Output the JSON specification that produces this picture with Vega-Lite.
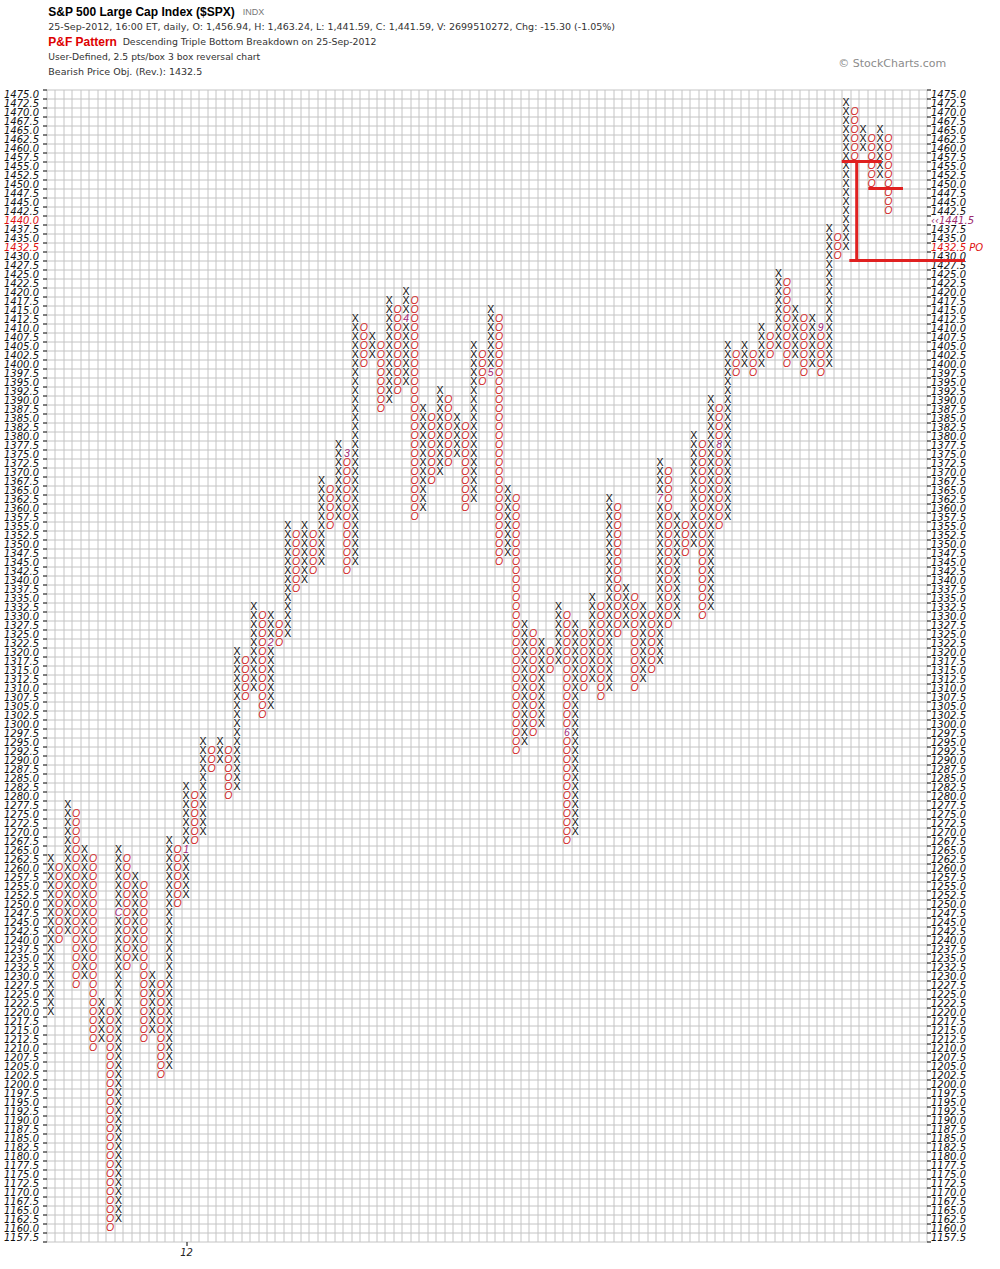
{
"$schema":"https://vega.github.io/schema/vega-lite/v6.json",
"width":880,"height":1152,
"autosize":{"type":"none"},
"padding":{"left":46.5,"top":89.5,"right":73.5,"bottom":27.5},
"background":"white",
"config":{"view":{"stroke":null}},
"datasets":{
"xs":[
{"c":0,"p":1220},{"c":0,"p":1222.5},{"c":0,"p":1225},{"c":0,"p":1227.5},{"c":0,"p":1230},{"c":0,"p":1232.5},{"c":0,"p":1235},{"c":0,"p":1237.5},{"c":0,"p":1240},{"c":0,"p":1242.5},{"c":0,"p":1245},{"c":0,"p":1247.5},{"c":0,"p":1250},{"c":0,"p":1252.5},{"c":0,"p":1255},{"c":0,"p":1257.5},{"c":0,"p":1260},{"c":0,"p":1262.5},
{"c":2,"p":1242.5},{"c":2,"p":1245},{"c":2,"p":1247.5},{"c":2,"p":1250},{"c":2,"p":1252.5},{"c":2,"p":1255},{"c":2,"p":1257.5},{"c":2,"p":1260},{"c":2,"p":1262.5},{"c":2,"p":1265},{"c":2,"p":1267.5},{"c":2,"p":1270},{"c":2,"p":1272.5},{"c":2,"p":1275},{"c":2,"p":1277.5},
{"c":4,"p":1230},{"c":4,"p":1232.5},{"c":4,"p":1235},{"c":4,"p":1237.5},{"c":4,"p":1240},{"c":4,"p":1242.5},{"c":4,"p":1245},{"c":4,"p":1247.5},{"c":4,"p":1250},{"c":4,"p":1252.5},{"c":4,"p":1255},{"c":4,"p":1257.5},{"c":4,"p":1260},{"c":4,"p":1262.5},{"c":4,"p":1265},
{"c":6,"p":1212.5},{"c":6,"p":1215},{"c":6,"p":1217.5},{"c":6,"p":1220},{"c":6,"p":1222.5},
{"c":8,"p":1162.5},{"c":8,"p":1165},{"c":8,"p":1167.5},{"c":8,"p":1170},{"c":8,"p":1172.5},{"c":8,"p":1175},{"c":8,"p":1177.5},{"c":8,"p":1180},{"c":8,"p":1182.5},{"c":8,"p":1185},{"c":8,"p":1187.5},{"c":8,"p":1190},{"c":8,"p":1192.5},{"c":8,"p":1195},{"c":8,"p":1197.5},{"c":8,"p":1200},{"c":8,"p":1202.5},{"c":8,"p":1205},{"c":8,"p":1207.5},{"c":8,"p":1210},{"c":8,"p":1212.5},{"c":8,"p":1215},{"c":8,"p":1217.5},{"c":8,"p":1220},{"c":8,"p":1222.5},{"c":8,"p":1225},{"c":8,"p":1227.5},{"c":8,"p":1230},{"c":8,"p":1232.5},{"c":8,"p":1235},{"c":8,"p":1237.5},{"c":8,"p":1240},{"c":8,"p":1242.5},{"c":8,"p":1245},{"c":8,"p":1250},{"c":8,"p":1252.5},{"c":8,"p":1255},{"c":8,"p":1257.5},{"c":8,"p":1260},{"c":8,"p":1262.5},{"c":8,"p":1265},
{"c":10,"p":1235},{"c":10,"p":1237.5},{"c":10,"p":1240},{"c":10,"p":1242.5},{"c":10,"p":1245},{"c":10,"p":1247.5},{"c":10,"p":1250},{"c":10,"p":1252.5},{"c":10,"p":1255},{"c":10,"p":1257.5},
{"c":12,"p":1215},{"c":12,"p":1217.5},{"c":12,"p":1220},{"c":12,"p":1222.5},{"c":12,"p":1225},{"c":12,"p":1227.5},{"c":12,"p":1230},
{"c":14,"p":1205},{"c":14,"p":1207.5},{"c":14,"p":1210},{"c":14,"p":1212.5},{"c":14,"p":1215},{"c":14,"p":1217.5},{"c":14,"p":1220},{"c":14,"p":1222.5},{"c":14,"p":1225},{"c":14,"p":1227.5},{"c":14,"p":1230},{"c":14,"p":1232.5},{"c":14,"p":1235},{"c":14,"p":1237.5},{"c":14,"p":1240},{"c":14,"p":1242.5},{"c":14,"p":1245},{"c":14,"p":1247.5},{"c":14,"p":1250},{"c":14,"p":1252.5},{"c":14,"p":1255},{"c":14,"p":1257.5},{"c":14,"p":1260},{"c":14,"p":1262.5},{"c":14,"p":1265},{"c":14,"p":1267.5},
{"c":16,"p":1252.5},{"c":16,"p":1255},{"c":16,"p":1257.5},{"c":16,"p":1260},{"c":16,"p":1262.5},{"c":16,"p":1267.5},{"c":16,"p":1270},{"c":16,"p":1272.5},{"c":16,"p":1275},{"c":16,"p":1277.5},{"c":16,"p":1280},{"c":16,"p":1282.5},
{"c":18,"p":1270},{"c":18,"p":1272.5},{"c":18,"p":1275},{"c":18,"p":1277.5},{"c":18,"p":1280},{"c":18,"p":1282.5},{"c":18,"p":1285},{"c":18,"p":1287.5},{"c":18,"p":1290},{"c":18,"p":1292.5},{"c":18,"p":1295},
{"c":20,"p":1290},{"c":20,"p":1292.5},{"c":20,"p":1295},
{"c":22,"p":1282.5},{"c":22,"p":1285},{"c":22,"p":1287.5},{"c":22,"p":1290},{"c":22,"p":1292.5},{"c":22,"p":1295},{"c":22,"p":1297.5},{"c":22,"p":1300},{"c":22,"p":1302.5},{"c":22,"p":1305},{"c":22,"p":1307.5},{"c":22,"p":1310},{"c":22,"p":1312.5},{"c":22,"p":1315},{"c":22,"p":1317.5},{"c":22,"p":1320},
{"c":24,"p":1310},{"c":24,"p":1312.5},{"c":24,"p":1315},{"c":24,"p":1317.5},{"c":24,"p":1320},{"c":24,"p":1322.5},{"c":24,"p":1325},{"c":24,"p":1327.5},{"c":24,"p":1330},{"c":24,"p":1332.5},
{"c":26,"p":1305},{"c":26,"p":1307.5},{"c":26,"p":1310},{"c":26,"p":1312.5},{"c":26,"p":1315},{"c":26,"p":1317.5},{"c":26,"p":1320},{"c":26,"p":1325},{"c":26,"p":1327.5},{"c":26,"p":1330},
{"c":28,"p":1325},{"c":28,"p":1327.5},{"c":28,"p":1330},{"c":28,"p":1332.5},{"c":28,"p":1335},{"c":28,"p":1337.5},{"c":28,"p":1340},{"c":28,"p":1342.5},{"c":28,"p":1345},{"c":28,"p":1347.5},{"c":28,"p":1350},{"c":28,"p":1352.5},{"c":28,"p":1355},
{"c":30,"p":1340},{"c":30,"p":1342.5},{"c":30,"p":1345},{"c":30,"p":1347.5},{"c":30,"p":1350},{"c":30,"p":1352.5},{"c":30,"p":1355},
{"c":32,"p":1345},{"c":32,"p":1347.5},{"c":32,"p":1350},{"c":32,"p":1352.5},{"c":32,"p":1355},{"c":32,"p":1357.5},{"c":32,"p":1360},{"c":32,"p":1362.5},{"c":32,"p":1365},{"c":32,"p":1367.5},
{"c":34,"p":1357.5},{"c":34,"p":1360},{"c":34,"p":1362.5},{"c":34,"p":1365},{"c":34,"p":1367.5},{"c":34,"p":1370},{"c":34,"p":1372.5},{"c":34,"p":1375},{"c":34,"p":1377.5},
{"c":36,"p":1345},{"c":36,"p":1347.5},{"c":36,"p":1350},{"c":36,"p":1352.5},{"c":36,"p":1355},{"c":36,"p":1357.5},{"c":36,"p":1360},{"c":36,"p":1362.5},{"c":36,"p":1365},{"c":36,"p":1367.5},{"c":36,"p":1370},{"c":36,"p":1372.5},{"c":36,"p":1375},{"c":36,"p":1377.5},{"c":36,"p":1380},{"c":36,"p":1382.5},{"c":36,"p":1385},{"c":36,"p":1387.5},{"c":36,"p":1390},{"c":36,"p":1392.5},{"c":36,"p":1395},{"c":36,"p":1397.5},{"c":36,"p":1400},{"c":36,"p":1402.5},{"c":36,"p":1405},{"c":36,"p":1407.5},{"c":36,"p":1410},{"c":36,"p":1412.5},
{"c":38,"p":1402.5},{"c":38,"p":1405},{"c":38,"p":1407.5},
{"c":40,"p":1390},{"c":40,"p":1392.5},{"c":40,"p":1395},{"c":40,"p":1397.5},{"c":40,"p":1400},{"c":40,"p":1402.5},{"c":40,"p":1405},{"c":40,"p":1407.5},{"c":40,"p":1410},{"c":40,"p":1412.5},{"c":40,"p":1415},{"c":40,"p":1417.5},
{"c":42,"p":1395},{"c":42,"p":1397.5},{"c":42,"p":1400},{"c":42,"p":1402.5},{"c":42,"p":1405},{"c":42,"p":1407.5},{"c":42,"p":1410},{"c":42,"p":1415},{"c":42,"p":1417.5},{"c":42,"p":1420},
{"c":44,"p":1360},{"c":44,"p":1362.5},{"c":44,"p":1365},{"c":44,"p":1367.5},{"c":44,"p":1370},{"c":44,"p":1372.5},{"c":44,"p":1375},{"c":44,"p":1377.5},{"c":44,"p":1380},{"c":44,"p":1382.5},{"c":44,"p":1385},{"c":44,"p":1387.5},
{"c":46,"p":1370},{"c":46,"p":1372.5},{"c":46,"p":1375},{"c":46,"p":1377.5},{"c":46,"p":1380},{"c":46,"p":1382.5},{"c":46,"p":1385},{"c":46,"p":1387.5},{"c":46,"p":1390},{"c":46,"p":1392.5},
{"c":48,"p":1375},{"c":48,"p":1377.5},{"c":48,"p":1380},{"c":48,"p":1382.5},{"c":48,"p":1385},
{"c":50,"p":1362.5},{"c":50,"p":1365},{"c":50,"p":1367.5},{"c":50,"p":1370},{"c":50,"p":1372.5},{"c":50,"p":1375},{"c":50,"p":1377.5},{"c":50,"p":1380},{"c":50,"p":1382.5},{"c":50,"p":1385},{"c":50,"p":1387.5},{"c":50,"p":1390},{"c":50,"p":1392.5},{"c":50,"p":1395},{"c":50,"p":1397.5},{"c":50,"p":1400},{"c":50,"p":1402.5},{"c":50,"p":1405},
{"c":52,"p":1400},{"c":52,"p":1402.5},{"c":52,"p":1405},{"c":52,"p":1407.5},{"c":52,"p":1410},{"c":52,"p":1412.5},{"c":52,"p":1415},
{"c":54,"p":1347.5},{"c":54,"p":1350},{"c":54,"p":1352.5},{"c":54,"p":1355},{"c":54,"p":1357.5},{"c":54,"p":1360},{"c":54,"p":1362.5},{"c":54,"p":1365},
{"c":56,"p":1295},{"c":56,"p":1297.5},{"c":56,"p":1300},{"c":56,"p":1302.5},{"c":56,"p":1305},{"c":56,"p":1307.5},{"c":56,"p":1310},{"c":56,"p":1312.5},{"c":56,"p":1315},{"c":56,"p":1317.5},{"c":56,"p":1320},{"c":56,"p":1322.5},{"c":56,"p":1325},{"c":56,"p":1327.5},
{"c":58,"p":1300},{"c":58,"p":1302.5},{"c":58,"p":1305},{"c":58,"p":1307.5},{"c":58,"p":1310},{"c":58,"p":1312.5},{"c":58,"p":1315},{"c":58,"p":1317.5},{"c":58,"p":1320},{"c":58,"p":1322.5},
{"c":60,"p":1317.5},{"c":60,"p":1320},{"c":60,"p":1322.5},{"c":60,"p":1325},{"c":60,"p":1327.5},{"c":60,"p":1330},{"c":60,"p":1332.5},
{"c":62,"p":1270},{"c":62,"p":1272.5},{"c":62,"p":1275},{"c":62,"p":1277.5},{"c":62,"p":1280},{"c":62,"p":1282.5},{"c":62,"p":1285},{"c":62,"p":1287.5},{"c":62,"p":1290},{"c":62,"p":1292.5},{"c":62,"p":1295},{"c":62,"p":1297.5},{"c":62,"p":1300},{"c":62,"p":1302.5},{"c":62,"p":1305},{"c":62,"p":1307.5},{"c":62,"p":1310},{"c":62,"p":1312.5},{"c":62,"p":1315},{"c":62,"p":1317.5},{"c":62,"p":1320},{"c":62,"p":1322.5},{"c":62,"p":1325},{"c":62,"p":1327.5},
{"c":64,"p":1312.5},{"c":64,"p":1315},{"c":64,"p":1317.5},{"c":64,"p":1320},{"c":64,"p":1322.5},{"c":64,"p":1325},{"c":64,"p":1327.5},{"c":64,"p":1330},{"c":64,"p":1332.5},{"c":64,"p":1335},
{"c":66,"p":1310},{"c":66,"p":1312.5},{"c":66,"p":1315},{"c":66,"p":1317.5},{"c":66,"p":1320},{"c":66,"p":1322.5},{"c":66,"p":1325},{"c":66,"p":1327.5},{"c":66,"p":1330},{"c":66,"p":1332.5},{"c":66,"p":1335},{"c":66,"p":1337.5},{"c":66,"p":1340},{"c":66,"p":1342.5},{"c":66,"p":1345},{"c":66,"p":1347.5},{"c":66,"p":1350},{"c":66,"p":1352.5},{"c":66,"p":1355},{"c":66,"p":1357.5},{"c":66,"p":1360},{"c":66,"p":1362.5},
{"c":68,"p":1327.5},{"c":68,"p":1330},{"c":68,"p":1332.5},{"c":68,"p":1335},{"c":68,"p":1337.5},
{"c":70,"p":1312.5},{"c":70,"p":1315},{"c":70,"p":1317.5},{"c":70,"p":1320},{"c":70,"p":1322.5},{"c":70,"p":1325},{"c":70,"p":1327.5},{"c":70,"p":1330},{"c":70,"p":1332.5},
{"c":72,"p":1317.5},{"c":72,"p":1320},{"c":72,"p":1322.5},{"c":72,"p":1325},{"c":72,"p":1327.5},{"c":72,"p":1330},{"c":72,"p":1332.5},{"c":72,"p":1335},{"c":72,"p":1337.5},{"c":72,"p":1340},{"c":72,"p":1342.5},{"c":72,"p":1345},{"c":72,"p":1347.5},{"c":72,"p":1350},{"c":72,"p":1352.5},{"c":72,"p":1355},{"c":72,"p":1357.5},{"c":72,"p":1360},{"c":72,"p":1365},{"c":72,"p":1367.5},{"c":72,"p":1370},{"c":72,"p":1372.5},
{"c":74,"p":1330},{"c":74,"p":1332.5},{"c":74,"p":1335},{"c":74,"p":1337.5},{"c":74,"p":1340},{"c":74,"p":1342.5},{"c":74,"p":1345},{"c":74,"p":1347.5},{"c":74,"p":1350},{"c":74,"p":1352.5},{"c":74,"p":1355},{"c":74,"p":1357.5},
{"c":76,"p":1350},{"c":76,"p":1352.5},{"c":76,"p":1355},{"c":76,"p":1357.5},{"c":76,"p":1360},{"c":76,"p":1362.5},{"c":76,"p":1365},{"c":76,"p":1367.5},{"c":76,"p":1370},{"c":76,"p":1372.5},{"c":76,"p":1375},{"c":76,"p":1377.5},{"c":76,"p":1380},
{"c":78,"p":1332.5},{"c":78,"p":1335},{"c":78,"p":1337.5},{"c":78,"p":1340},{"c":78,"p":1342.5},{"c":78,"p":1345},{"c":78,"p":1347.5},{"c":78,"p":1350},{"c":78,"p":1352.5},{"c":78,"p":1355},{"c":78,"p":1357.5},{"c":78,"p":1360},{"c":78,"p":1362.5},{"c":78,"p":1365},{"c":78,"p":1367.5},{"c":78,"p":1370},{"c":78,"p":1372.5},{"c":78,"p":1375},{"c":78,"p":1377.5},{"c":78,"p":1380},{"c":78,"p":1382.5},{"c":78,"p":1385},{"c":78,"p":1387.5},{"c":78,"p":1390},
{"c":80,"p":1357.5},{"c":80,"p":1360},{"c":80,"p":1362.5},{"c":80,"p":1365},{"c":80,"p":1367.5},{"c":80,"p":1370},{"c":80,"p":1372.5},{"c":80,"p":1375},{"c":80,"p":1377.5},{"c":80,"p":1380},{"c":80,"p":1382.5},{"c":80,"p":1385},{"c":80,"p":1387.5},{"c":80,"p":1390},{"c":80,"p":1392.5},{"c":80,"p":1395},{"c":80,"p":1397.5},{"c":80,"p":1400},{"c":80,"p":1402.5},{"c":80,"p":1405},
{"c":82,"p":1400},{"c":82,"p":1402.5},{"c":82,"p":1405},
{"c":84,"p":1400},{"c":84,"p":1402.5},{"c":84,"p":1405},{"c":84,"p":1407.5},{"c":84,"p":1410},
{"c":86,"p":1405},{"c":86,"p":1407.5},{"c":86,"p":1410},{"c":86,"p":1412.5},{"c":86,"p":1415},{"c":86,"p":1417.5},{"c":86,"p":1420},{"c":86,"p":1422.5},{"c":86,"p":1425},
{"c":88,"p":1402.5},{"c":88,"p":1405},{"c":88,"p":1407.5},{"c":88,"p":1410},{"c":88,"p":1412.5},{"c":88,"p":1415},
{"c":90,"p":1400},{"c":90,"p":1402.5},{"c":90,"p":1405},{"c":90,"p":1407.5},{"c":90,"p":1410},{"c":90,"p":1412.5},
{"c":92,"p":1400},{"c":92,"p":1402.5},{"c":92,"p":1405},{"c":92,"p":1407.5},{"c":92,"p":1410},{"c":92,"p":1412.5},{"c":92,"p":1415},{"c":92,"p":1417.5},{"c":92,"p":1420},{"c":92,"p":1422.5},{"c":92,"p":1425},{"c":92,"p":1427.5},{"c":92,"p":1430},{"c":92,"p":1432.5},{"c":92,"p":1435},{"c":92,"p":1437.5},
{"c":94,"p":1432.5},{"c":94,"p":1435},{"c":94,"p":1437.5},{"c":94,"p":1440},{"c":94,"p":1442.5},{"c":94,"p":1445},{"c":94,"p":1447.5},{"c":94,"p":1450},{"c":94,"p":1452.5},{"c":94,"p":1455},{"c":94,"p":1457.5},{"c":94,"p":1460},{"c":94,"p":1462.5},{"c":94,"p":1465},{"c":94,"p":1467.5},{"c":94,"p":1470},{"c":94,"p":1472.5},
{"c":96,"p":1460},{"c":96,"p":1462.5},{"c":96,"p":1465},
{"c":98,"p":1452.5},{"c":98,"p":1455},{"c":98,"p":1457.5},{"c":98,"p":1460},{"c":98,"p":1462.5},{"c":98,"p":1465}
],
"os":[
{"c":1,"p":1240},{"c":1,"p":1242.5},{"c":1,"p":1245},{"c":1,"p":1247.5},{"c":1,"p":1250},{"c":1,"p":1252.5},{"c":1,"p":1255},{"c":1,"p":1257.5},{"c":1,"p":1260},
{"c":3,"p":1227.5},{"c":3,"p":1230},{"c":3,"p":1232.5},{"c":3,"p":1235},{"c":3,"p":1237.5},{"c":3,"p":1240},{"c":3,"p":1242.5},{"c":3,"p":1245},{"c":3,"p":1247.5},{"c":3,"p":1250},{"c":3,"p":1252.5},{"c":3,"p":1255},{"c":3,"p":1257.5},{"c":3,"p":1260},{"c":3,"p":1262.5},{"c":3,"p":1265},{"c":3,"p":1267.5},{"c":3,"p":1270},{"c":3,"p":1272.5},{"c":3,"p":1275},
{"c":5,"p":1210},{"c":5,"p":1212.5},{"c":5,"p":1215},{"c":5,"p":1217.5},{"c":5,"p":1220},{"c":5,"p":1222.5},{"c":5,"p":1225},{"c":5,"p":1227.5},{"c":5,"p":1230},{"c":5,"p":1232.5},{"c":5,"p":1235},{"c":5,"p":1237.5},{"c":5,"p":1240},{"c":5,"p":1242.5},{"c":5,"p":1245},{"c":5,"p":1247.5},{"c":5,"p":1250},{"c":5,"p":1252.5},{"c":5,"p":1255},{"c":5,"p":1257.5},{"c":5,"p":1260},{"c":5,"p":1262.5},
{"c":7,"p":1160},{"c":7,"p":1162.5},{"c":7,"p":1165},{"c":7,"p":1167.5},{"c":7,"p":1170},{"c":7,"p":1172.5},{"c":7,"p":1175},{"c":7,"p":1177.5},{"c":7,"p":1180},{"c":7,"p":1182.5},{"c":7,"p":1185},{"c":7,"p":1187.5},{"c":7,"p":1190},{"c":7,"p":1192.5},{"c":7,"p":1195},{"c":7,"p":1197.5},{"c":7,"p":1200},{"c":7,"p":1202.5},{"c":7,"p":1205},{"c":7,"p":1207.5},{"c":7,"p":1210},{"c":7,"p":1212.5},{"c":7,"p":1215},{"c":7,"p":1217.5},{"c":7,"p":1220},
{"c":9,"p":1232.5},{"c":9,"p":1235},{"c":9,"p":1237.5},{"c":9,"p":1240},{"c":9,"p":1242.5},{"c":9,"p":1245},{"c":9,"p":1247.5},{"c":9,"p":1250},{"c":9,"p":1252.5},{"c":9,"p":1255},{"c":9,"p":1257.5},{"c":9,"p":1260},{"c":9,"p":1262.5},
{"c":11,"p":1212.5},{"c":11,"p":1215},{"c":11,"p":1217.5},{"c":11,"p":1220},{"c":11,"p":1222.5},{"c":11,"p":1225},{"c":11,"p":1227.5},{"c":11,"p":1230},{"c":11,"p":1232.5},{"c":11,"p":1235},{"c":11,"p":1237.5},{"c":11,"p":1240},{"c":11,"p":1242.5},{"c":11,"p":1245},{"c":11,"p":1247.5},{"c":11,"p":1250},{"c":11,"p":1252.5},{"c":11,"p":1255},
{"c":13,"p":1202.5},{"c":13,"p":1205},{"c":13,"p":1207.5},{"c":13,"p":1210},{"c":13,"p":1212.5},{"c":13,"p":1215},{"c":13,"p":1217.5},{"c":13,"p":1220},{"c":13,"p":1222.5},{"c":13,"p":1225},{"c":13,"p":1227.5},
{"c":15,"p":1250},{"c":15,"p":1252.5},{"c":15,"p":1255},{"c":15,"p":1257.5},{"c":15,"p":1260},{"c":15,"p":1262.5},{"c":15,"p":1265},
{"c":17,"p":1267.5},{"c":17,"p":1270},{"c":17,"p":1272.5},{"c":17,"p":1275},{"c":17,"p":1277.5},{"c":17,"p":1280},
{"c":19,"p":1287.5},{"c":19,"p":1290},{"c":19,"p":1292.5},
{"c":21,"p":1280},{"c":21,"p":1282.5},{"c":21,"p":1285},{"c":21,"p":1287.5},{"c":21,"p":1290},{"c":21,"p":1292.5},
{"c":23,"p":1307.5},{"c":23,"p":1310},{"c":23,"p":1312.5},{"c":23,"p":1315},{"c":23,"p":1317.5},
{"c":25,"p":1302.5},{"c":25,"p":1305},{"c":25,"p":1307.5},{"c":25,"p":1310},{"c":25,"p":1312.5},{"c":25,"p":1315},{"c":25,"p":1317.5},{"c":25,"p":1320},{"c":25,"p":1322.5},{"c":25,"p":1325},{"c":25,"p":1327.5},{"c":25,"p":1330},
{"c":27,"p":1322.5},{"c":27,"p":1325},{"c":27,"p":1327.5},
{"c":29,"p":1337.5},{"c":29,"p":1340},{"c":29,"p":1342.5},{"c":29,"p":1345},{"c":29,"p":1347.5},{"c":29,"p":1350},{"c":29,"p":1352.5},
{"c":31,"p":1342.5},{"c":31,"p":1345},{"c":31,"p":1347.5},{"c":31,"p":1350},{"c":31,"p":1352.5},
{"c":33,"p":1355},{"c":33,"p":1357.5},{"c":33,"p":1360},{"c":33,"p":1362.5},{"c":33,"p":1365},
{"c":35,"p":1342.5},{"c":35,"p":1345},{"c":35,"p":1347.5},{"c":35,"p":1350},{"c":35,"p":1352.5},{"c":35,"p":1355},{"c":35,"p":1357.5},{"c":35,"p":1360},{"c":35,"p":1362.5},{"c":35,"p":1365},{"c":35,"p":1367.5},{"c":35,"p":1370},{"c":35,"p":1372.5},
{"c":37,"p":1400},{"c":37,"p":1402.5},{"c":37,"p":1405},{"c":37,"p":1407.5},{"c":37,"p":1410},
{"c":39,"p":1387.5},{"c":39,"p":1390},{"c":39,"p":1392.5},{"c":39,"p":1395},{"c":39,"p":1397.5},{"c":39,"p":1400},{"c":39,"p":1402.5},{"c":39,"p":1405},
{"c":41,"p":1392.5},{"c":41,"p":1395},{"c":41,"p":1397.5},{"c":41,"p":1400},{"c":41,"p":1402.5},{"c":41,"p":1405},{"c":41,"p":1407.5},{"c":41,"p":1410},{"c":41,"p":1412.5},{"c":41,"p":1415},
{"c":43,"p":1357.5},{"c":43,"p":1360},{"c":43,"p":1362.5},{"c":43,"p":1365},{"c":43,"p":1367.5},{"c":43,"p":1370},{"c":43,"p":1372.5},{"c":43,"p":1375},{"c":43,"p":1377.5},{"c":43,"p":1380},{"c":43,"p":1382.5},{"c":43,"p":1385},{"c":43,"p":1387.5},{"c":43,"p":1390},{"c":43,"p":1392.5},{"c":43,"p":1395},{"c":43,"p":1397.5},{"c":43,"p":1400},{"c":43,"p":1402.5},{"c":43,"p":1405},{"c":43,"p":1407.5},{"c":43,"p":1410},{"c":43,"p":1412.5},{"c":43,"p":1415},{"c":43,"p":1417.5},
{"c":45,"p":1367.5},{"c":45,"p":1370},{"c":45,"p":1372.5},{"c":45,"p":1375},{"c":45,"p":1377.5},{"c":45,"p":1380},{"c":45,"p":1382.5},{"c":45,"p":1385},
{"c":47,"p":1372.5},{"c":47,"p":1375},{"c":47,"p":1377.5},{"c":47,"p":1380},{"c":47,"p":1382.5},{"c":47,"p":1385},{"c":47,"p":1387.5},{"c":47,"p":1390},
{"c":49,"p":1360},{"c":49,"p":1362.5},{"c":49,"p":1365},{"c":49,"p":1367.5},{"c":49,"p":1370},{"c":49,"p":1372.5},{"c":49,"p":1375},{"c":49,"p":1377.5},{"c":49,"p":1380},{"c":49,"p":1382.5},
{"c":51,"p":1395},{"c":51,"p":1397.5},{"c":51,"p":1400},{"c":51,"p":1402.5},
{"c":53,"p":1345},{"c":53,"p":1347.5},{"c":53,"p":1350},{"c":53,"p":1352.5},{"c":53,"p":1355},{"c":53,"p":1357.5},{"c":53,"p":1360},{"c":53,"p":1362.5},{"c":53,"p":1365},{"c":53,"p":1367.5},{"c":53,"p":1370},{"c":53,"p":1372.5},{"c":53,"p":1375},{"c":53,"p":1377.5},{"c":53,"p":1380},{"c":53,"p":1382.5},{"c":53,"p":1385},{"c":53,"p":1387.5},{"c":53,"p":1390},{"c":53,"p":1392.5},{"c":53,"p":1395},{"c":53,"p":1397.5},{"c":53,"p":1400},{"c":53,"p":1402.5},{"c":53,"p":1405},{"c":53,"p":1407.5},{"c":53,"p":1410},{"c":53,"p":1412.5},
{"c":55,"p":1292.5},{"c":55,"p":1295},{"c":55,"p":1297.5},{"c":55,"p":1300},{"c":55,"p":1302.5},{"c":55,"p":1305},{"c":55,"p":1307.5},{"c":55,"p":1310},{"c":55,"p":1312.5},{"c":55,"p":1315},{"c":55,"p":1317.5},{"c":55,"p":1320},{"c":55,"p":1322.5},{"c":55,"p":1325},{"c":55,"p":1327.5},{"c":55,"p":1330},{"c":55,"p":1332.5},{"c":55,"p":1335},{"c":55,"p":1337.5},{"c":55,"p":1340},{"c":55,"p":1342.5},{"c":55,"p":1345},{"c":55,"p":1347.5},{"c":55,"p":1350},{"c":55,"p":1352.5},{"c":55,"p":1355},{"c":55,"p":1357.5},{"c":55,"p":1360},{"c":55,"p":1362.5},
{"c":57,"p":1297.5},{"c":57,"p":1300},{"c":57,"p":1302.5},{"c":57,"p":1305},{"c":57,"p":1307.5},{"c":57,"p":1310},{"c":57,"p":1312.5},{"c":57,"p":1315},{"c":57,"p":1317.5},{"c":57,"p":1320},{"c":57,"p":1322.5},{"c":57,"p":1325},
{"c":59,"p":1315},{"c":59,"p":1317.5},{"c":59,"p":1320},
{"c":61,"p":1267.5},{"c":61,"p":1270},{"c":61,"p":1272.5},{"c":61,"p":1275},{"c":61,"p":1277.5},{"c":61,"p":1280},{"c":61,"p":1282.5},{"c":61,"p":1285},{"c":61,"p":1287.5},{"c":61,"p":1290},{"c":61,"p":1292.5},{"c":61,"p":1295},{"c":61,"p":1300},{"c":61,"p":1302.5},{"c":61,"p":1305},{"c":61,"p":1307.5},{"c":61,"p":1310},{"c":61,"p":1312.5},{"c":61,"p":1315},{"c":61,"p":1317.5},{"c":61,"p":1320},{"c":61,"p":1322.5},{"c":61,"p":1325},{"c":61,"p":1327.5},{"c":61,"p":1330},
{"c":63,"p":1310},{"c":63,"p":1312.5},{"c":63,"p":1315},{"c":63,"p":1317.5},{"c":63,"p":1320},{"c":63,"p":1322.5},{"c":63,"p":1325},
{"c":65,"p":1307.5},{"c":65,"p":1310},{"c":65,"p":1312.5},{"c":65,"p":1315},{"c":65,"p":1317.5},{"c":65,"p":1320},{"c":65,"p":1322.5},{"c":65,"p":1325},{"c":65,"p":1327.5},{"c":65,"p":1330},{"c":65,"p":1332.5},
{"c":67,"p":1325},{"c":67,"p":1327.5},{"c":67,"p":1330},{"c":67,"p":1332.5},{"c":67,"p":1335},{"c":67,"p":1337.5},{"c":67,"p":1340},{"c":67,"p":1342.5},{"c":67,"p":1345},{"c":67,"p":1347.5},{"c":67,"p":1350},{"c":67,"p":1352.5},{"c":67,"p":1355},{"c":67,"p":1357.5},{"c":67,"p":1360},
{"c":69,"p":1310},{"c":69,"p":1312.5},{"c":69,"p":1315},{"c":69,"p":1317.5},{"c":69,"p":1320},{"c":69,"p":1322.5},{"c":69,"p":1325},{"c":69,"p":1327.5},{"c":69,"p":1330},{"c":69,"p":1332.5},{"c":69,"p":1335},
{"c":71,"p":1315},{"c":71,"p":1317.5},{"c":71,"p":1320},{"c":71,"p":1322.5},{"c":71,"p":1325},{"c":71,"p":1327.5},{"c":71,"p":1330},
{"c":73,"p":1327.5},{"c":73,"p":1330},{"c":73,"p":1332.5},{"c":73,"p":1335},{"c":73,"p":1337.5},{"c":73,"p":1340},{"c":73,"p":1342.5},{"c":73,"p":1345},{"c":73,"p":1347.5},{"c":73,"p":1350},{"c":73,"p":1352.5},{"c":73,"p":1355},{"c":73,"p":1357.5},{"c":73,"p":1360},{"c":73,"p":1362.5},{"c":73,"p":1365},{"c":73,"p":1367.5},{"c":73,"p":1370},
{"c":75,"p":1347.5},{"c":75,"p":1350},{"c":75,"p":1352.5},{"c":75,"p":1355},
{"c":77,"p":1330},{"c":77,"p":1332.5},{"c":77,"p":1335},{"c":77,"p":1337.5},{"c":77,"p":1340},{"c":77,"p":1342.5},{"c":77,"p":1345},{"c":77,"p":1347.5},{"c":77,"p":1350},{"c":77,"p":1352.5},{"c":77,"p":1355},{"c":77,"p":1357.5},{"c":77,"p":1360},{"c":77,"p":1362.5},{"c":77,"p":1365},{"c":77,"p":1367.5},{"c":77,"p":1370},{"c":77,"p":1372.5},{"c":77,"p":1375},{"c":77,"p":1377.5},
{"c":79,"p":1355},{"c":79,"p":1357.5},{"c":79,"p":1360},{"c":79,"p":1362.5},{"c":79,"p":1365},{"c":79,"p":1367.5},{"c":79,"p":1370},{"c":79,"p":1372.5},{"c":79,"p":1375},{"c":79,"p":1380},{"c":79,"p":1382.5},{"c":79,"p":1385},{"c":79,"p":1387.5},
{"c":81,"p":1397.5},{"c":81,"p":1400},{"c":81,"p":1402.5},
{"c":83,"p":1397.5},{"c":83,"p":1400},{"c":83,"p":1402.5},
{"c":85,"p":1402.5},{"c":85,"p":1405},{"c":85,"p":1407.5},
{"c":87,"p":1400},{"c":87,"p":1402.5},{"c":87,"p":1405},{"c":87,"p":1407.5},{"c":87,"p":1410},{"c":87,"p":1412.5},{"c":87,"p":1415},{"c":87,"p":1417.5},{"c":87,"p":1420},{"c":87,"p":1422.5},
{"c":89,"p":1397.5},{"c":89,"p":1400},{"c":89,"p":1402.5},{"c":89,"p":1405},{"c":89,"p":1407.5},{"c":89,"p":1410},{"c":89,"p":1412.5},
{"c":91,"p":1397.5},{"c":91,"p":1400},{"c":91,"p":1402.5},{"c":91,"p":1405},{"c":91,"p":1407.5},
{"c":93,"p":1430},{"c":93,"p":1432.5},{"c":93,"p":1435},
{"c":95,"p":1457.5},{"c":95,"p":1460},{"c":95,"p":1462.5},{"c":95,"p":1465},{"c":95,"p":1467.5},{"c":95,"p":1470},
{"c":97,"p":1450},{"c":97,"p":1452.5},{"c":97,"p":1455},{"c":97,"p":1457.5},{"c":97,"p":1460},{"c":97,"p":1462.5},
{"c":99,"p":1442.5},{"c":99,"p":1445},{"c":99,"p":1447.5},{"c":99,"p":1450},{"c":99,"p":1452.5},{"c":99,"p":1455},{"c":99,"p":1457.5},{"c":99,"p":1460},{"c":99,"p":1462.5}
],
"mk":[
{"c":8,"p":1247.5,"s":"C"},{"c":16,"p":1265,"s":"1"},{"c":26,"p":1322.5,"s":"2"},{"c":35,"p":1375,"s":"3"},{"c":42,"p":1412.5,"s":"4"},{"c":52,"p":1397.5,"s":"5"},{"c":61,"p":1297.5,"s":"6"},{"c":72,"p":1362.5,"s":"7"},{"c":79,"p":1377.5,"s":"8"},{"c":91,"p":1410,"s":"9"}
],
"ann":[
{"c1":93.48,"c2":98.21,"p1":1456.25,"p2":1456.25},
{"c1":95.25,"c2":95.25,"p1":1456.25,"p2":1428.75},
{"c1":94.38,"c2":108.05,"p1":1428.75,"p2":1428.75},
{"c1":96.62,"c2":100.72,"p1":1448.75,"p2":1448.75}
]
},
"layer":[
{
"data":{"name":"xs"},
"mark":{"type":"text","font":"Liberation Sans","fontSize":10.5,"color":"#111111","align":"center","baseline":"middle"},
"encoding":{
"x":{"field":"c","type":"quantitative","scale":{"domain":[-0.5,103.5],"nice":false,"zero":false},
"axis":{"title":null,"orient":"bottom","domain":false,"grid":true,"gridColor":"#c4c4c4","gridWidth":1,"tickCount":1000,
"values":[-0.5,0.5,1.5,2.5,3.5,4.5,5.5,6.5,7.5,8.5,9.5,10.5,11.5,12.5,13.5,14.5,15.5,16,16.5,17.5,18.5,19.5,20.5,21.5,22.5,23.5,24.5,25.5,26.5,27.5,28.5,29.5,30.5,31.5,32.5,33.5,34.5,35.5,36.5,37.5,38.5,39.5,40.5,41.5,42.5,43.5,44.5,45.5,46.5,47.5,48.5,49.5,50.5,51.5,52.5,53.5,54.5,55.5,56.5,57.5,58.5,59.5,60.5,61.5,62.5,63.5,64.5,65.5,66.5,67.5,68.5,69.5,70.5,71.5,72.5,73.5,74.5,75.5,76.5,77.5,78.5,79.5,80.5,81.5,82.5,83.5,84.5,85.5,86.5,87.5,88.5,89.5,90.5,91.5,92.5,93.5,94.5,95.5,96.5,97.5,98.5,99.5,100.5,101.5,102.5,103.5],
"gridOpacity":{"condition":{"test":"datum.value == 16","value":0},"value":1},
"tickOpacity":{"condition":{"test":"datum.value == 16","value":1},"value":0},
"tickColor":"#000000","tickSize":4,
"labelExpr":"datum.value == 16 ? '12' : ''",
"labelFont":"DejaVu Sans","labelFontStyle":"italic","labelFontSize":10,"labelColor":"#222222","labelPadding":2,
"labelOverlap":false,"labelFlush":false,"labelBound":false}},
"y":{"field":"p","type":"quantitative","scale":{"domain":[1156.25,1476.25],"nice":false,"zero":false},
"axis":{"title":null,"orient":"left","domain":false,"grid":true,"gridColor":"#c4c4c4","gridWidth":1,"tickCount":1000,
"values":[1156.25,1157.5,1158.75,1160,1161.25,1162.5,1163.75,1165,1166.25,1167.5,1168.75,1170,1171.25,1172.5,1173.75,1175,1176.25,1177.5,1178.75,1180,1181.25,1182.5,1183.75,1185,1186.25,1187.5,1188.75,1190,1191.25,1192.5,1193.75,1195,1196.25,1197.5,1198.75,1200,1201.25,1202.5,1203.75,1205,1206.25,1207.5,1208.75,1210,1211.25,1212.5,1213.75,1215,1216.25,1217.5,1218.75,1220,1221.25,1222.5,1223.75,1225,1226.25,1227.5,1228.75,1230,1231.25,1232.5,1233.75,1235,1236.25,1237.5,1238.75,1240,1241.25,1242.5,1243.75,1245,1246.25,1247.5,1248.75,1250,1251.25,1252.5,1253.75,1255,1256.25,1257.5,1258.75,1260,1261.25,1262.5,1263.75,1265,1266.25,1267.5,1268.75,1270,1271.25,1272.5,1273.75,1275,1276.25,1277.5,1278.75,1280,1281.25,1282.5,1283.75,1285,1286.25,1287.5,1288.75,1290,1291.25,1292.5,1293.75,1295,1296.25,1297.5,1298.75,1300,1301.25,1302.5,1303.75,1305,1306.25,1307.5,1308.75,1310,1311.25,1312.5,1313.75,1315,1316.25,1317.5,1318.75,1320,1321.25,1322.5,1323.75,1325,1326.25,1327.5,1328.75,1330,1331.25,1332.5,1333.75,1335,1336.25,1337.5,1338.75,1340,1341.25,1342.5,1343.75,1345,1346.25,1347.5,1348.75,1350,1351.25,1352.5,1353.75,1355,1356.25,1357.5,1358.75,1360,1361.25,1362.5,1363.75,1365,1366.25,1367.5,1368.75,1370,1371.25,1372.5,1373.75,1375,1376.25,1377.5,1378.75,1380,1381.25,1382.5,1383.75,1385,1386.25,1387.5,1388.75,1390,1391.25,1392.5,1393.75,1395,1396.25,1397.5,1398.75,1400,1401.25,1402.5,1403.75,1405,1406.25,1407.5,1408.75,1410,1411.25,1412.5,1413.75,1415,1416.25,1417.5,1418.75,1420,1421.25,1422.5,1423.75,1425,1426.25,1427.5,1428.75,1430,1431.25,1432.5,1433.75,1435,1436.25,1437.5,1438.75,1440,1441.25,1442.5,1443.75,1445,1446.25,1447.5,1448.75,1450,1451.25,1452.5,1453.75,1455,1456.25,1457.5,1458.75,1460,1461.25,1462.5,1463.75,1465,1466.25,1467.5,1468.75,1470,1471.25,1472.5,1473.75,1475,1476.25],
"gridOpacity":{"condition":{"test":"datum.value % 2.5 == 0","value":0},"value":1},
"tickOpacity":{"condition":{"test":"datum.value % 2.5 == 0","value":0},"value":1},
"tickColor":"#000000","tickSize":4,
"labelExpr":"datum.value % 2.5 == 0 ? format(datum.value, '.1f') : ''",
"labelColor":{"condition":{"test":"datum.value == 1440 || datum.value == 1432.5","value":"#e01010"},"value":"#111111"},
"labelFont":"DejaVu Sans","labelFontStyle":"italic","labelFontSize":10,"labelPadding":4,
"labelOverlap":false,"labelFlush":false,"labelBound":false}},
"text":{"value":"X"}
}
},
{
"data":{"name":"os"},
"mark":{"type":"text","font":"Liberation Sans","fontStyle":"italic","fontSize":10.5,"color":"#d42c2c","align":"center","baseline":"middle"},
"encoding":{
"x":{"field":"c","type":"quantitative","scale":{"domain":[-0.5,103.5],"nice":false,"zero":false}},
"y":{"field":"p","type":"quantitative","scale":{"domain":[1156.25,1476.25],"nice":false,"zero":false},
"axis":{"title":null,"orient":"right","domain":false,"grid":false,"tickCount":1000,
"values":[1156.25,1157.5,1158.75,1160,1161.25,1162.5,1163.75,1165,1166.25,1167.5,1168.75,1170,1171.25,1172.5,1173.75,1175,1176.25,1177.5,1178.75,1180,1181.25,1182.5,1183.75,1185,1186.25,1187.5,1188.75,1190,1191.25,1192.5,1193.75,1195,1196.25,1197.5,1198.75,1200,1201.25,1202.5,1203.75,1205,1206.25,1207.5,1208.75,1210,1211.25,1212.5,1213.75,1215,1216.25,1217.5,1218.75,1220,1221.25,1222.5,1223.75,1225,1226.25,1227.5,1228.75,1230,1231.25,1232.5,1233.75,1235,1236.25,1237.5,1238.75,1240,1241.25,1242.5,1243.75,1245,1246.25,1247.5,1248.75,1250,1251.25,1252.5,1253.75,1255,1256.25,1257.5,1258.75,1260,1261.25,1262.5,1263.75,1265,1266.25,1267.5,1268.75,1270,1271.25,1272.5,1273.75,1275,1276.25,1277.5,1278.75,1280,1281.25,1282.5,1283.75,1285,1286.25,1287.5,1288.75,1290,1291.25,1292.5,1293.75,1295,1296.25,1297.5,1298.75,1300,1301.25,1302.5,1303.75,1305,1306.25,1307.5,1308.75,1310,1311.25,1312.5,1313.75,1315,1316.25,1317.5,1318.75,1320,1321.25,1322.5,1323.75,1325,1326.25,1327.5,1328.75,1330,1331.25,1332.5,1333.75,1335,1336.25,1337.5,1338.75,1340,1341.25,1342.5,1343.75,1345,1346.25,1347.5,1348.75,1350,1351.25,1352.5,1353.75,1355,1356.25,1357.5,1358.75,1360,1361.25,1362.5,1363.75,1365,1366.25,1367.5,1368.75,1370,1371.25,1372.5,1373.75,1375,1376.25,1377.5,1378.75,1380,1381.25,1382.5,1383.75,1385,1386.25,1387.5,1388.75,1390,1391.25,1392.5,1393.75,1395,1396.25,1397.5,1398.75,1400,1401.25,1402.5,1403.75,1405,1406.25,1407.5,1408.75,1410,1411.25,1412.5,1413.75,1415,1416.25,1417.5,1418.75,1420,1421.25,1422.5,1423.75,1425,1426.25,1427.5,1428.75,1430,1431.25,1432.5,1433.75,1435,1436.25,1437.5,1438.75,1440,1441.25,1442.5,1443.75,1445,1446.25,1447.5,1448.75,1450,1451.25,1452.5,1453.75,1455,1456.25,1457.5,1458.75,1460,1461.25,1462.5,1463.75,1465,1466.25,1467.5,1468.75,1470,1471.25,1472.5,1473.75,1475,1476.25],
"tickOpacity":{"condition":{"test":"datum.value % 2.5 == 0","value":0},"value":1},
"tickColor":"#000000","tickSize":4,
"labelExpr":"datum.value % 2.5 != 0 ? '' : (datum.value == 1440 ? '‹‹1441.5' : (datum.value == 1432.5 ? '1432.5 PO' : format(datum.value, '.1f')))",
"labelColor":{"condition":[{"test":"datum.value == 1440","value":"#9c2a6e"},{"test":"datum.value == 1432.5","value":"#e01010"}],"value":"#111111"},
"labelFont":"DejaVu Sans","labelFontStyle":"italic","labelFontSize":10,"labelPadding":0,
"labelOverlap":false,"labelFlush":false,"labelBound":false}},
"text":{"value":"O"}
}
},
{
"data":{"name":"mk"},
"mark":{"type":"text","font":"Liberation Sans","fontStyle":"italic","fontSize":10.5,"color":"#a3287a","align":"center","baseline":"middle"},
"encoding":{
"x":{"field":"c","type":"quantitative","scale":{"domain":[-0.5,103.5],"nice":false,"zero":false}},
"y":{"field":"p","type":"quantitative","scale":{"domain":[1156.25,1476.25],"nice":false,"zero":false},"axis":null},
"text":{"field":"s"}
}
},
{
"data":{"name":"ann"},
"mark":{"type":"rule","color":"#e02020","strokeWidth":3},
"encoding":{
"x":{"field":"c1","type":"quantitative","scale":{"domain":[-0.5,103.5],"nice":false,"zero":false}},
"x2":{"field":"c2"},
"y":{"field":"p1","type":"quantitative","scale":{"domain":[1156.25,1476.25],"nice":false,"zero":false},"axis":null},
"y2":{"field":"p2"}
}
},
{
"data":{"values":[{}]},
"mark":{"type":"text","font":"Liberation Sans","fontWeight":"bold","fontSize":12,"color":"#000000","align":"left","baseline":"middle"},
"encoding":{
"x":{"datum":-0.29,"type":"quantitative","scale":{"domain":[-0.5,103.5],"nice":false,"zero":false}},
"y":{"datum":1497.64,"type":"quantitative","scale":{"domain":[1156.25,1476.25],"nice":false,"zero":false},"axis":null},
"text":{"value":"S&P 500 Large Cap Index ($SPX)"}
}
},
{
"data":{"values":[{}]},
"mark":{"type":"text","font":"Liberation Sans","fontSize":9,"color":"#777777","align":"left","baseline":"middle"},
"encoding":{
"x":{"datum":22.69,"type":"quantitative","scale":{"domain":[-0.5,103.5],"nice":false,"zero":false}},
"y":{"datum":1497.64,"type":"quantitative","scale":{"domain":[1156.25,1476.25],"nice":false,"zero":false},"axis":null},
"text":{"value":"INDX"}
}
},
{
"data":{"values":[{}]},
"mark":{"type":"text","font":"DejaVu Sans","fontSize":9.5,"color":"#333333","align":"left","baseline":"middle"},
"encoding":{
"x":{"datum":-0.29,"type":"quantitative","scale":{"domain":[-0.5,103.5],"nice":false,"zero":false}},
"y":{"datum":1493.69,"type":"quantitative","scale":{"domain":[1156.25,1476.25],"nice":false,"zero":false},"axis":null},
"text":{"value":"25-Sep-2012, 16:00 ET, daily, O: 1,456.94, H: 1,463.24, L: 1,441.59, C: 1,441.59, V: 2699510272, Chg: -15.30 (-1.05%)"}
}
},
{
"data":{"values":[{}]},
"mark":{"type":"text","font":"Liberation Sans","fontWeight":"bold","fontSize":12,"color":"#dd0000","align":"left","baseline":"middle"},
"encoding":{
"x":{"datum":-0.29,"type":"quantitative","scale":{"domain":[-0.5,103.5],"nice":false,"zero":false}},
"y":{"datum":1489.58,"type":"quantitative","scale":{"domain":[1156.25,1476.25],"nice":false,"zero":false},"axis":null},
"text":{"value":"P&F Pattern"}
}
},
{
"data":{"values":[{}]},
"mark":{"type":"text","font":"DejaVu Sans","fontSize":9.4,"color":"#333333","align":"left","baseline":"middle"},
"encoding":{
"x":{"datum":8.5,"type":"quantitative","scale":{"domain":[-0.5,103.5],"nice":false,"zero":false}},
"y":{"datum":1489.58,"type":"quantitative","scale":{"domain":[1156.25,1476.25],"nice":false,"zero":false},"axis":null},
"text":{"value":"Descending Triple Bottom Breakdown on 25-Sep-2012"}
}
},
{
"data":{"values":[{}]},
"mark":{"type":"text","font":"DejaVu Sans","fontSize":9.2,"color":"#333333","align":"left","baseline":"middle"},
"encoding":{
"x":{"datum":-0.29,"type":"quantitative","scale":{"domain":[-0.5,103.5],"nice":false,"zero":false}},
"y":{"datum":1485.28,"type":"quantitative","scale":{"domain":[1156.25,1476.25],"nice":false,"zero":false},"axis":null},
"text":{"value":"User-Defined, 2.5 pts/box 3 box reversal chart"}
}
},
{
"data":{"values":[{}]},
"mark":{"type":"text","font":"DejaVu Sans","fontSize":9.5,"color":"#333333","align":"left","baseline":"middle"},
"encoding":{
"x":{"datum":-0.29,"type":"quantitative","scale":{"domain":[-0.5,103.5],"nice":false,"zero":false}},
"y":{"datum":1481.11,"type":"quantitative","scale":{"domain":[1156.25,1476.25],"nice":false,"zero":false},"axis":null},
"text":{"value":"Bearish Price Obj. (Rev.): 1432.5"}
}
},
{
"data":{"values":[{}]},
"mark":{"type":"text","font":"DejaVu Sans","fontSize":11,"color":"#8c8c8c","align":"left","baseline":"middle"},
"encoding":{
"x":{"datum":93.08,"type":"quantitative","scale":{"domain":[-0.5,103.5],"nice":false,"zero":false}},
"y":{"datum":1483.25,"type":"quantitative","scale":{"domain":[1156.25,1476.25],"nice":false,"zero":false},"axis":null},
"text":{"value":"© StockCharts.com"}
}
}
],
"resolve":{"axis":{"y":"independent"}}
}
